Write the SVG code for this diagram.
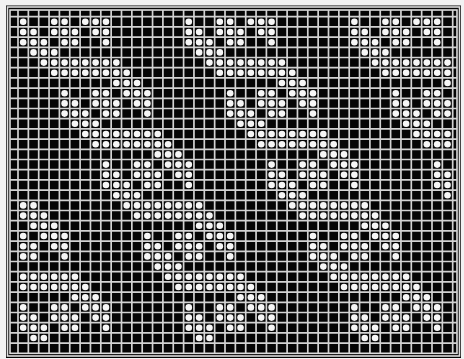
<svg xmlns="http://www.w3.org/2000/svg" width="464" height="359" viewBox="0 0 464 359">
<style>
.g{stroke:#d2d2d2;stroke-width:1.7;fill:none}
.f{stroke:#dcdcdc;stroke-width:1.6;fill:none}
circle{fill:#f6f6f6}
</style>
<defs>
<g id="A" fill="#f6f6f6">
<circle cx="5.18" cy="5.1" r="3.3"/><circle cx="36.23" cy="5.1" r="3.3"/><circle cx="46.58" cy="5.1" r="3.3"/><circle cx="67.28" cy="5.1" r="3.3"/><circle cx="77.63" cy="5.1" r="3.3"/><circle cx="87.98" cy="5.1" r="3.3"/>
<circle cx="5.18" cy="15.3" r="3.3"/><circle cx="15.53" cy="15.3" r="3.3"/><circle cx="36.23" cy="15.3" r="3.3"/><circle cx="46.58" cy="15.3" r="3.3"/><circle cx="56.93" cy="15.3" r="3.3"/><circle cx="77.63" cy="15.3" r="3.3"/><circle cx="87.98" cy="15.3" r="3.3"/>
<circle cx="5.18" cy="25.5" r="3.3"/><circle cx="15.53" cy="25.5" r="3.3"/><circle cx="25.88" cy="25.5" r="3.3"/><circle cx="46.58" cy="25.5" r="3.3"/><circle cx="56.93" cy="25.5" r="3.3"/><circle cx="87.98" cy="25.5" r="3.3"/>
</g>
<g id="U" fill="#f6f6f6">
<use href="#A"/>
<circle cx="15.53" cy="35.7" r="3.3"/><circle cx="25.88" cy="35.7" r="3.3"/><circle cx="36.23" cy="35.7" r="3.3"/>
<circle cx="25.88" cy="45.9" r="3.3"/><circle cx="36.23" cy="45.9" r="3.3"/><circle cx="46.58" cy="45.9" r="3.3"/><circle cx="56.93" cy="45.9" r="3.3"/><circle cx="67.28" cy="45.9" r="3.3"/><circle cx="77.63" cy="45.9" r="3.3"/><circle cx="87.98" cy="45.9" r="3.3"/><circle cx="98.33" cy="45.9" r="3.3"/>
<circle cx="36.23" cy="56.1" r="3.3"/><circle cx="46.58" cy="56.1" r="3.3"/><circle cx="56.93" cy="56.1" r="3.3"/><circle cx="67.28" cy="56.1" r="3.3"/><circle cx="77.63" cy="56.1" r="3.3"/><circle cx="87.98" cy="56.1" r="3.3"/><circle cx="98.33" cy="56.1" r="3.3"/><circle cx="108.68" cy="56.1" r="3.3"/>
<circle cx="98.33" cy="66.3" r="3.3"/><circle cx="108.68" cy="66.3" r="3.3"/><circle cx="119.03" cy="66.3" r="3.3"/>
</g>
<clipPath id="clip"><rect x="18" y="16.7" width="434.7" height="326.4"/></clipPath>
</defs>
<rect width="464" height="359" fill="#f2f2f2"/>
<g id="frame">
<rect x="6" y="5.5" width="455" height="352.5" fill="#050505"/>
<rect class="f" x="7.5" y="7" width="452" height="349"/>
<rect class="f" x="10" y="10" width="447" height="343.3"/>
</g>
<g id="grid">
<path class="g" d="M18 10V353.3M28.35 10V353.3M38.7 10V353.3M49.05 10V353.3M59.4 10V353.3M69.75 10V353.3M80.1 10V353.3M90.45 10V353.3M100.8 10V353.3M111.15 10V353.3M121.5 10V353.3M131.85 10V353.3M142.2 10V353.3M152.55 10V353.3M162.9 10V353.3M173.25 10V353.3M183.6 10V353.3M193.95 10V353.3M204.3 10V353.3M214.65 10V353.3M225 10V353.3M235.35 10V353.3M245.7 10V353.3M256.05 10V353.3M266.4 10V353.3M276.75 10V353.3M287.1 10V353.3M297.45 10V353.3M307.8 10V353.3M318.15 10V353.3M328.5 10V353.3M338.85 10V353.3M349.2 10V353.3M359.55 10V353.3M369.9 10V353.3M380.25 10V353.3M390.6 10V353.3M400.95 10V353.3M411.3 10V353.3M421.65 10V353.3M432 10V353.3M442.35 10V353.3M452.7 10V353.3"/>
<path class="g" d="M10 16.7H457M10 26.9H457M10 37.1H457M10 47.3H457M10 57.5H457M10 67.7H457M10 77.9H457M10 88.1H457M10 98.3H457M10 108.5H457M10 118.7H457M10 128.9H457M10 139.1H457M10 149.3H457M10 159.5H457M10 169.7H457M10 179.9H457M10 190.1H457M10 200.3H457M10 210.5H457M10 220.7H457M10 230.9H457M10 241.1H457M10 251.3H457M10 261.5H457M10 271.7H457M10 281.9H457M10 292.1H457M10 302.3H457M10 312.5H457M10 322.7H457M10 332.9H457M10 343.1H457"/>
</g>
<g id="dots" fill="#f6f6f6" clip-path="url(#clip)">
<use href="#U" transform="translate(18 16.7)"/>
<use href="#U" transform="translate(183.6 16.7)"/>
<use href="#U" transform="translate(349.2 16.7)"/>
<use href="#U" transform="translate(59.4 88.1)"/>
<use href="#U" transform="translate(225 88.1)"/>
<use href="#U" transform="translate(390.6 88.1)"/>
<use href="#U" transform="translate(100.8 159.5)"/>
<use href="#U" transform="translate(266.4 159.5)"/>
<use href="#U" transform="translate(432 159.5)"/>
<circle cx="23.18" cy="205.4" r="3.3"/><circle cx="33.53" cy="205.4" r="3.3"/>
<circle cx="23.18" cy="215.6" r="3.3"/><circle cx="33.53" cy="215.6" r="3.3"/><circle cx="43.88" cy="215.6" r="3.3"/>
<circle cx="33.53" cy="225.8" r="3.3"/><circle cx="43.88" cy="225.8" r="3.3"/><circle cx="54.23" cy="225.8" r="3.3"/>
<use href="#U" transform="translate(-23.4 230.9)"/>
<use href="#U" transform="translate(142.2 230.9)"/>
<use href="#U" transform="translate(307.8 230.9)"/>
<use href="#A" transform="translate(18 302.3)"/>
<use href="#A" transform="translate(183.6 302.3)"/>
<use href="#A" transform="translate(349.2 302.3)"/>
<circle cx="33.53" cy="338" r="3.3"/><circle cx="43.88" cy="338" r="3.3"/>
<circle cx="199.13" cy="338" r="3.3"/><circle cx="209.48" cy="338" r="3.3"/>
<circle cx="364.73" cy="338" r="3.3"/><circle cx="375.08" cy="338" r="3.3"/>
</g>
</svg>
